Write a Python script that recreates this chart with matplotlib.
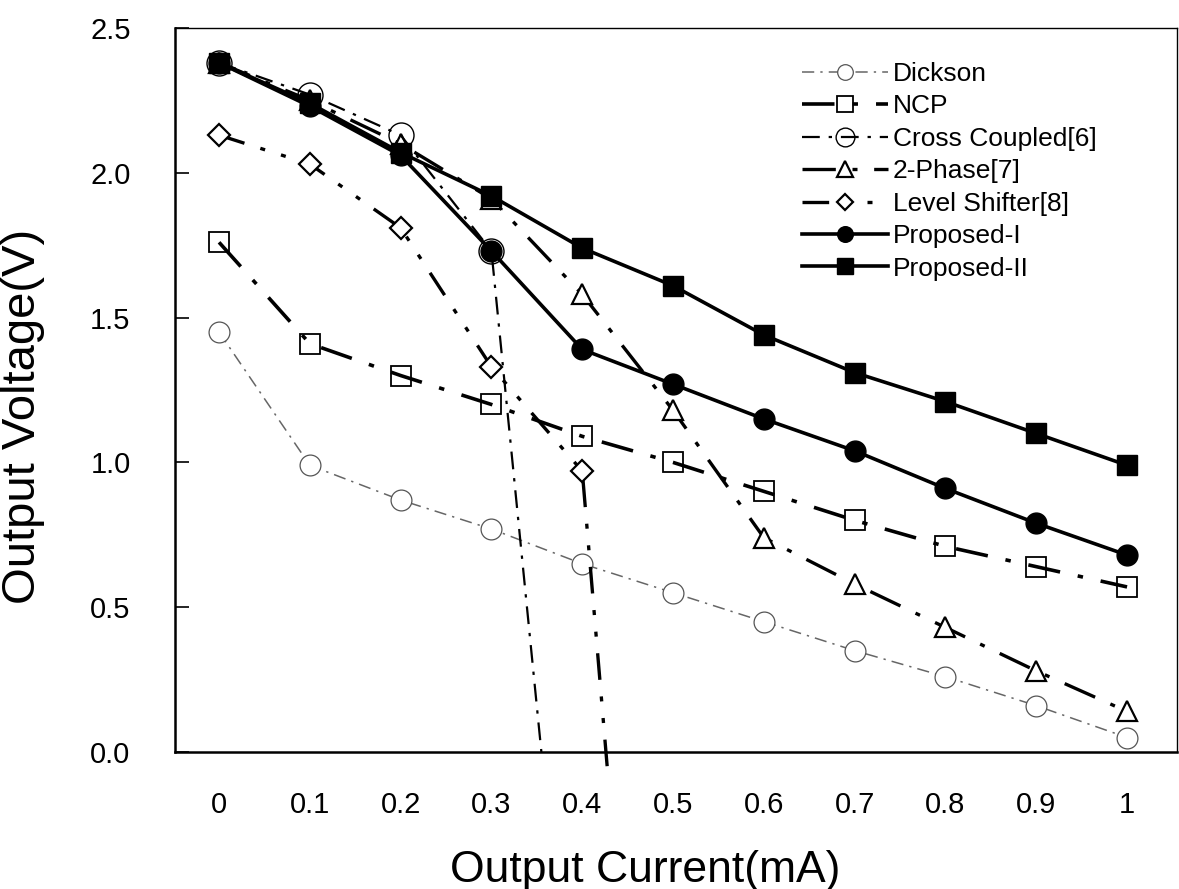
import matplotlib
matplotlib.use("Agg")
import matplotlib.pyplot as plt

plt.rcParams['font.family'] = ['Liberation Sans', 'DejaVu Sans']

# ---- data (Output current in mA, output voltage in V) ----
x_full = [0, 0.1, 0.2, 0.3, 0.4, 0.5, 0.6, 0.7, 0.8, 0.9, 1.0]

dickson = [1.45, 0.99, 0.87, 0.77, 0.65, 0.55, 0.45, 0.35, 0.26, 0.16, 0.05]
ncp = [1.76, 1.41, 1.30, 1.20, 1.09, 1.00, 0.90, 0.80, 0.71, 0.64, 0.57]

cross_x = [0, 0.1, 0.2, 0.3, 0.355]
cross_y = [2.38, 2.27, 2.13, 1.73, 0.0]

two_phase = [2.38, 2.25, 2.10, 1.91, 1.58, 1.18, 0.74, 0.58, 0.43, 0.28, 0.14]

level_x = [0, 0.1, 0.2, 0.3, 0.4, 0.428]
level_y = [2.13, 2.03, 1.81, 1.33, 0.97, -0.07]

proposed_1 = [2.38, 2.23, 2.06, 1.73, 1.39, 1.27, 1.15, 1.04, 0.91, 0.79, 0.68]
proposed_2 = [2.38, 2.24, 2.07, 1.92, 1.74, 1.61, 1.44, 1.31, 1.21, 1.10, 0.99]

x_tick_vals = [0, 0.1, 0.2, 0.3, 0.4, 0.5, 0.6, 0.7, 0.8, 0.9, 1.0]
x_tick_labels = ['0', '0.1', '0.2', '0.3', '0.4', '0.5', '0.6', '0.7', '0.8', '0.9', '1']
y_tick_vals = [0.0, 0.5, 1.0, 1.5, 2.0, 2.5]
y_tick_labels = ['0.0', '0.5', '1.0', '1.5', '2.0', '2.5']

W, H = 1179, 889
fig = plt.figure(figsize=(W / 100, H / 100), dpi=100)
ax = fig.add_axes([175 / W, (H - 752) / H, (1177 - 175) / W, (752 - 28) / H])

ax.plot(x_full, dickson, color='#666666', lw=1.1, ls=(0, (8, 4, 1.5, 4)),
        marker='o', ms=15, mfc='white', mec='#555555', mew=0.9,
        label='Dickson', zorder=2)
ax.plot(x_full, ncp, color='black', lw=2.6, ls=(0, (9, 5, 1.5, 5)),
        marker='s', ms=15, mfc='none', mec='black', mew=1.3,
        label='NCP', zorder=3)
ax.plot(cross_x, cross_y, color='black', lw=1.6, ls=(0, (8, 4, 1.5, 4)),
        marker='o', ms=18, mfc='none', mec='black', mew=1.0, markevery=[0, 1, 2, 3],
        label='Cross Coupled[6]', zorder=3)
ax.plot(x_full, two_phase, color='black', lw=2.4, ls=(0, (10, 5, 1.5, 5)),
        marker='^', ms=15, mfc='white', mec='black', mew=1.6,
        label='2-Phase[7]', zorder=2.5)
ax.plot(level_x, level_y, color='black', lw=2.4, ls=(0, (8, 5, 1.5, 5, 1.5, 5)),
        marker='D', ms=11, mfc='white', mec='black', mew=1.6, markevery=[0, 1, 2, 3, 4],
        label='Level Shifter[8]', zorder=3, clip_on=False)
ax.plot(x_full, proposed_1, color='black', lw=2.6, ls='-',
        marker='o', ms=15, mfc='black', mec='black',
        label='Proposed-I', zorder=4)
ax.plot(x_full, proposed_2, color='black', lw=2.6, ls='-',
        marker='s', ms=15, mfc='black', mec='black',
        label='Proposed-II', zorder=4)

ax.set_xlim(-0.0485, 1.055)
ax.set_ylim(0, 2.5)
ax.set_xticks(x_tick_vals)
ax.set_xticklabels(x_tick_labels)
ax.set_yticks(y_tick_vals)
ax.set_yticklabels(y_tick_labels)

ax.tick_params(axis='x', length=0, pad=28, labelsize=21)
ax.tick_params(axis='y', direction='in', length=10, width=1.2, pad=32, labelsize=21)

for side in ['left', 'bottom']:
    ax.spines[side].set_linewidth(1.8)
for side in ['top', 'right']:
    ax.spines[side].set_linewidth(1.0)

ax.set_xlabel('Output Current(mA)', fontsize=32)
ax.set_ylabel('Output Voltage(V)', fontsize=34)
ax.xaxis.set_label_coords(0.469, -0.135)
ax.yaxis.set_label_coords(-0.13, 0.464)

leg = ax.legend(loc='upper left', bbox_to_anchor=(802 / W, (H - 62) / H),
                bbox_transform=fig.transFigure, frameon=False, fontsize=19,
                handlelength=3.25, handletextpad=0.2, labelspacing=0.32,
                borderpad=0, borderaxespad=0, markerscale=0.75)

fig.savefig('out.png', dpi=100)
